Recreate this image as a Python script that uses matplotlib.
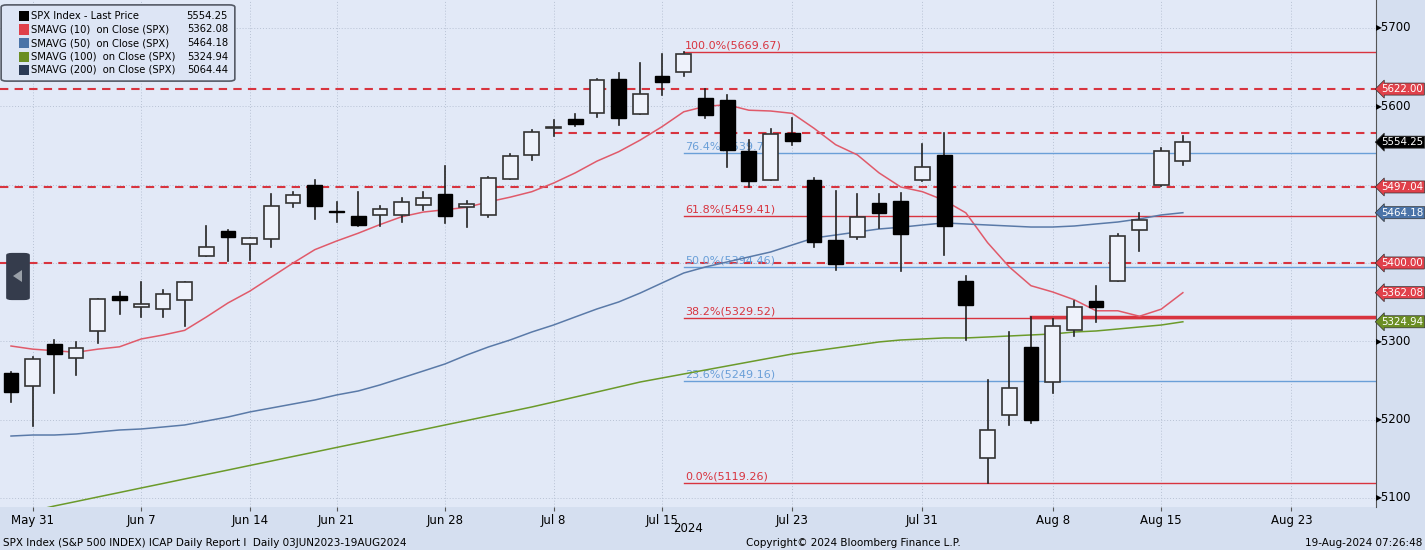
import matplotlib
matplotlib.use("Agg")
import matplotlib.pyplot as plt
from matplotlib.patches import Rectangle, FancyBboxPatch, Polygon
import numpy as np

dates = ["May 30","May 31","Jun 3","Jun 4","Jun 5","Jun 6","Jun 7","Jun 10","Jun 11","Jun 12","Jun 13","Jun 14",
         "Jun 17","Jun 18","Jun 20","Jun 21","Jun 24","Jun 25","Jun 26","Jun 27","Jun 28",
         "Jul 1","Jul 2","Jul 3","Jul 5","Jul 8","Jul 9","Jul 10","Jul 11","Jul 12","Jul 15","Jul 16","Jul 17",
         "Jul 18","Jul 19","Jul 22","Jul 23","Jul 24","Jul 25","Jul 26","Jul 29","Jul 30","Jul 31",
         "Aug 1","Aug 2","Aug 5","Aug 6","Aug 7","Aug 8","Aug 9","Aug 12","Aug 13","Aug 14","Aug 15","Aug 16"]
opens  = [5259.8,5243.2,5297.2,5278.2,5313.0,5357.8,5343.8,5341.2,5353.0,5409.1,5441.0,5424.1,
          5431.1,5476.2,5500.0,5466.8,5459.6,5460.7,5460.7,5473.6,5488.5,
          5471.1,5461.8,5507.4,5537.9,5572.9,5584.2,5591.3,5635.2,5590.8,5638.2,5644.1,5610.1,
          5608.6,5543.4,5505.8,5565.3,5505.8,5428.7,5433.7,5476.6,5478.7,5505.6,
          5537.8,5376.6,5151.1,5206.4,5293.1,5248.5,5314.2,5351.9,5377.0,5442.6,5500.0,5530.5]
highs  = [5260.2,5280.3,5302.1,5298.8,5354.2,5362.4,5375.1,5365.8,5376.0,5447.3,5441.9,5432.4,
          5488.5,5490.4,5505.5,5478.3,5490.8,5472.9,5483.1,5490.8,5523.6,
          5479.6,5509.7,5539.3,5570.3,5583.1,5590.8,5635.4,5642.5,5655.6,5666.9,5669.7,5622.5,
          5614.1,5557.5,5570.4,5585.3,5508.0,5491.6,5488.3,5487.7,5489.5,5551.5,
          5566.2,5383.9,5250.9,5312.3,5330.6,5328.0,5351.9,5371.2,5436.5,5463.2,5546.2,5562.0]
lows   = [5222.1,5191.7,5234.3,5257.6,5297.6,5335.0,5331.3,5331.5,5320.0,5409.1,5402.5,5403.8,
          5420.4,5471.3,5455.6,5452.0,5447.6,5446.6,5451.9,5467.5,5451.1,
          5446.5,5458.4,5507.4,5531.6,5562.5,5574.6,5586.4,5576.5,5590.4,5614.1,5639.0,5584.8,
          5522.8,5497.0,5505.8,5550.9,5420.0,5391.0,5430.7,5444.4,5390.0,5504.8,
          5410.4,5302.0,5119.3,5193.6,5195.5,5233.9,5306.2,5324.4,5377.0,5415.6,5497.9,5525.2]
closes = [5235.5,5277.5,5283.4,5291.3,5354.0,5353.0,5347.0,5360.8,5375.3,5421.0,5433.7,5431.6,
          5473.2,5487.0,5473.2,5464.6,5447.9,5469.3,5477.9,5482.9,5460.5,
          5475.1,5509.0,5537.0,5567.2,5572.9,5577.0,5633.9,5584.5,5615.4,5631.2,5667.2,5588.3,
          5544.6,5505.0,5564.4,5555.7,5427.1,5399.2,5459.1,5463.5,5436.4,5522.3,
          5446.7,5346.6,5186.3,5240.0,5199.5,5319.3,5344.2,5344.4,5434.4,5455.2,5543.2,5554.25]
ma10 = [5294,5290,5288,5286,5290,5293,5303,5308,5314,5331,5349,5364,5382,5400,5417,5428,5438,5449,5459,5465,
        5468,5471,5478,5484,5491,5502,5515,5530,5542,5557,5574,5593,5600,5602,5595,5594,5591,5572,5551,5538,
        5515,5497,5491,5480,5464,5426,5395,5371,5363,5353,5339,5339,5332,5341,5362.08]
ma50 = [5179.1,5180.4,5180.4,5181.7,5184.3,5186.8,5188.1,5190.6,5193.2,5198.3,5203.4,5209.8,5214.9,5220.0,5225.1,
        5231.5,5236.6,5244.3,5253.2,5262.1,5271.1,5282.5,5292.8,5301.7,5311.9,5320.8,5331.1,5341.3,5350.2,5361.7,
        5374.5,5387.2,5394.9,5401.3,5407.7,5414.0,5423.0,5431.9,5435.7,5439.6,5443.4,5445.6,5448.5,5451.1,5449.8,
        5448.5,5447.2,5445.9,5445.9,5447.2,5449.8,5452.3,5456.2,5461.3,5464.18]
ma100 = [5078.3,5083.4,5089.8,5095.5,5101.3,5107.0,5112.8,5118.5,5124.3,5130.0,5135.7,5141.5,5147.2,5153.0,5158.7,
         5164.5,5170.2,5175.9,5181.7,5187.4,5193.2,5198.9,5204.7,5210.4,5216.2,5222.5,5228.9,5235.3,5241.7,5248.1,
         5253.2,5258.3,5263.4,5268.5,5273.6,5278.7,5283.8,5287.7,5291.5,5295.3,5299.2,5301.7,5303.0,5304.3,5304.3,
         5305.5,5306.8,5308.1,5309.4,5311.9,5313.2,5315.7,5318.3,5320.8,5324.94]
fib_levels = [5669.67,5539.77,5459.41,5394.46,5329.52,5249.16,5119.26]
fib_labels = ["100.0%","76.4%","61.8%","50.0%","38.2%","23.6%","0.0%"]
dashed_levels = [5622.00,5497.04,5400.00]
resist_level = 5566.0
support_level = 5331.0
tick_labels = ["May 31","Jun 7","Jun 14","Jun 21","Jun 28","Jul 8","Jul 15","Jul 23","Jul 31","Aug 8","Aug 15","Aug 23"]
tick_pos = [1,6,11,15,20,25,30,36,42,48,53,59]
price_ticks = [5100,5200,5300,5400,5500,5600,5700]
price_labels_shown = [5100,5200,5300,5600,5700]
legend_names = ["SPX Index - Last Price","SMAVG (10)  on Close (SPX)","SMAVG (50)  on Close (SPX)",
                "SMAVG (100)  on Close (SPX)","SMAVG (200)  on Close (SPX)"]
legend_vals = ["5554.25","5362.08","5464.18","5324.94","5064.44"]
legend_cols = ["#000000","#e0404a","#4a73a8","#6b8e23","#2b3a55"]
tag_vals = [5622.00,5554.25,5497.04,5464.18,5400.00,5362.08,5324.94]
tag_cols = ["#e0404a","#000000","#e0404a","#4a73a8","#e0404a","#e0404a","#6b8e23"]

RED="#d8343f"; BLUE="#6a9fd8"; BG="#e2e9f7"; OUT="#d5dff0"
fig = plt.figure(figsize=(14.25,5.5), dpi=100, facecolor=OUT)
ax = fig.add_axes([0, 1-507/550, 1376/1425, 507/550])
ax.set_facecolor(BG)
ax.set_xlim(-0.507, 62.9)
ax.set_ylim(5088.5, 5735.7)
x = np.arange(len(dates))

for yv in price_ticks:
    ax.axhline(yv, color="#b8c2d4", lw=0.7, ls=(0,(1,2)), zorder=0)
for p in tick_pos:
    ax.axvline(p, color="#b8c2d4", lw=0.7, ls=(0,(1,2)), zorder=0)

for lv in dashed_levels:
    ax.axhline(lv, color=RED, lw=1.5, ls=(0,(4,3)), zorder=1)
ax.plot([25, 63], [resist_level]*2, color=RED, lw=1.5, ls=(0,(4,3)), zorder=1)
ax.plot([47, 63], [support_level]*2, color=RED, lw=2.5, zorder=1)
for i,(lv,lb) in enumerate(zip(fib_levels,fib_labels)):
    c = RED if i%2==0 else BLUE
    ax.plot([31, 63], [lv,lv], color=c, lw=1.0, zorder=1)
    ax.text(31.05, lv+2, f"{lb}({lv:.2f})", color=c, fontsize=8, va="bottom", ha="left", zorder=1)

ax.plot(x, ma10, color="#e05a6a", lw=1.1, zorder=2)
ax.plot(x, ma50, color="#5a7aa8", lw=1.1, zorder=2)
ax.plot(x, ma100, color="#6b9a2a", lw=1.1, zorder=2)

w = 0.68
for i in range(len(dates)):
    o,h,l,c = opens[i],highs[i],lows[i],closes[i]
    ax.plot([i,i],[l,h], color="#222222", lw=1.2, zorder=3)
    lo, hi = min(o,c), max(o,c)
    if c >= o:
        ax.add_patch(Rectangle((i-w/2, lo), w, max(hi-lo,0.8), facecolor="#eef2fb", edgecolor="#333333", lw=1.2, zorder=4))
    else:
        ax.add_patch(Rectangle((i-w/2, lo), w, max(hi-lo,1.5), facecolor="#000000", edgecolor="#000000", lw=1.0, zorder=4))

ax.set_xticks(tick_pos)
ax.set_xticklabels(tick_labels, fontsize=8.5)
ax.tick_params(axis="x", length=3, color="#555555", pad=2)
ax.set_yticks([])
for s in ["top","left","bottom"]:
    ax.spines[s].set_visible(False)
ax.spines["right"].set_color("#555555")

for yv in price_labels_shown:
    ax.annotate("\u25b8" + str(yv), xy=(1.0, yv), xycoords=("axes fraction","data"), xytext=(0,0),
                textcoords="offset points", va="center", ha="left", fontsize=8.5, annotation_clip=False)
for val,col in zip(tag_vals, tag_cols):
    ax.annotate(f"{val:.2f}", xy=(1.0, val), xycoords=("axes fraction","data"), xytext=(4,0),
                textcoords="offset points", va="center", ha="left", fontsize=7.4, color="white",
                bbox=dict(boxstyle="larrow,pad=0.1", fc=col, ec="#333333", lw=0.5), annotation_clip=False, zorder=10)

fig.text(688/1425, 1-528/550, "2024", fontsize=8.5, ha="center", va="center")
fig.text(0.002, 1-543/550, "SPX Index (S&P 500 INDEX) ICAP Daily Report I  Daily 03JUN2023-19AUG2024", fontsize=7.5, va="center")
fig.text(853/1425, 1-543/550, "Copyright\u00a9 2024 Bloomberg Finance L.P.", fontsize=7.5, va="center", ha="center")
fig.text(0.998, 1-543/550, "19-Aug-2024 07:26:48", fontsize=7.5, va="center", ha="right")

H=550; W=1425
fig.patches.append(FancyBboxPatch((4/W, 1-80/H), 228/W, 74/H, boxstyle="round,pad=0.002,rounding_size=0.004",
                   transform=fig.transFigure, fc="#dde5f5", ec="#555a66", lw=1.2))
for k,(nm,vl,cl) in enumerate(zip(legend_names,legend_vals,legend_cols)):
    yy = 1-(16+13.5*k)/H
    fig.patches.append(Rectangle((19/W, yy-5/H), 10/W, 10/H, transform=fig.transFigure, fc=cl, ec="none"))
    fig.text(31/W, yy, nm, fontsize=7.2, va="center", ha="left")
    fig.text(228/W, yy, vl, fontsize=7.2, va="center", ha="right")
fig.patches.append(FancyBboxPatch((9/W, 1-299/H), 18/W, 45/H, boxstyle="round,pad=0.002,rounding_size=0.004",
                   transform=fig.transFigure, fc="#353c4c", ec="none"))
fig.patches.append(Polygon([(13/W,1-276/H),(22/W,1-270/H),(22/W,1-282/H)], closed=True, transform=fig.transFigure, fc="#9aa0a8"))

fig.savefig("out.png", dpi=100, facecolor=OUT)
